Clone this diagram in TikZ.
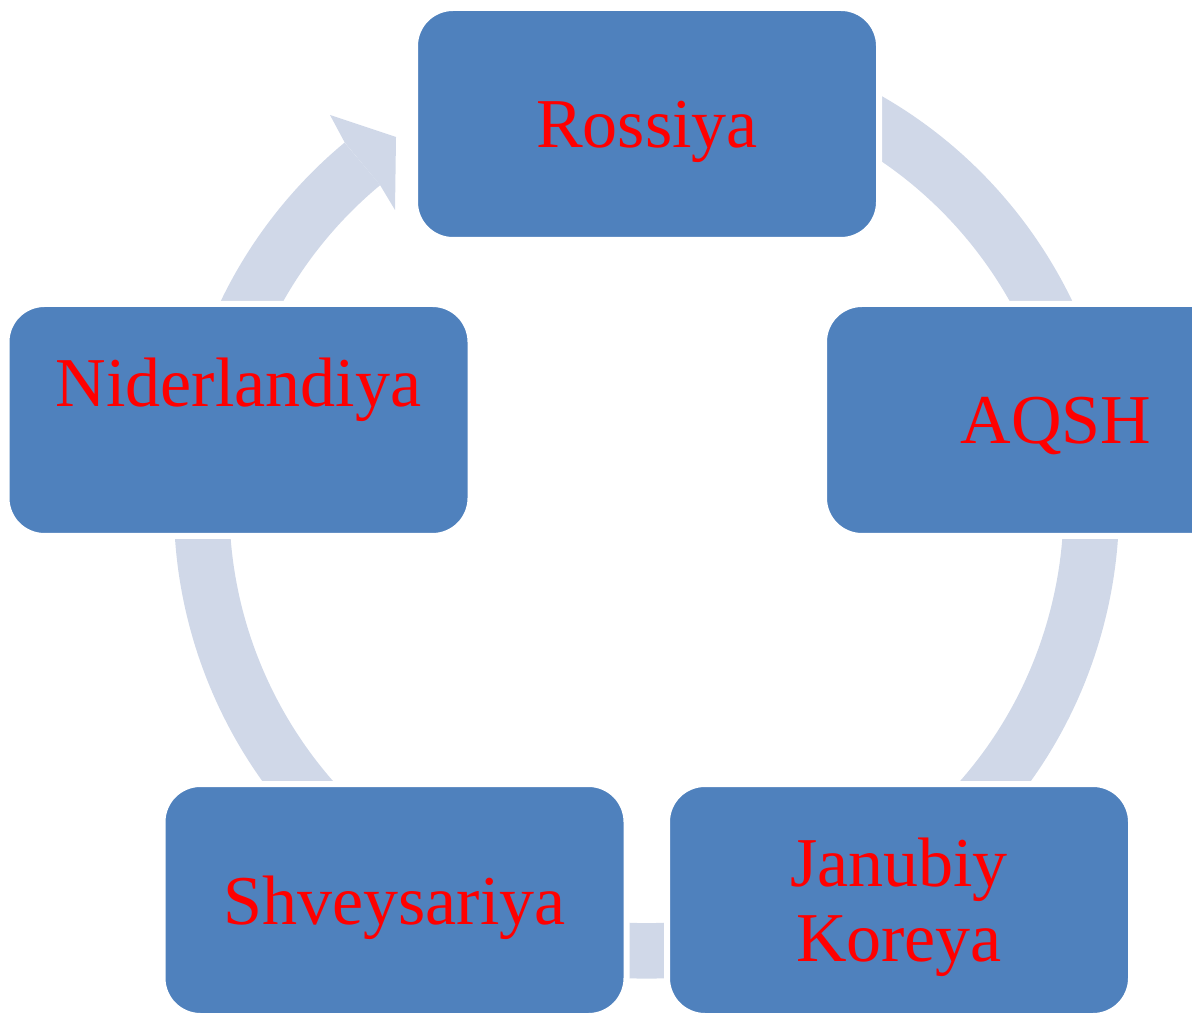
\documentclass[tikz,border=0pt]{standalone}
\usepackage{fontspec}
\setmainfont{Liberation Serif}
\usetikzlibrary{calc}
\definecolor{boxblue}{HTML}{4F81BD}
\definecolor{ringgray}{HTML}{D0D8E8}
\tikzset{
  stage/.style={rectangle, rounded corners=19pt, fill=boxblue, draw=white, line width=3pt,
    minimum width=232pt, minimum height=116pt, text=red, align=center, text depth=0pt,
    font=\fontsize{35}{37.5}\selectfont, inner sep=0pt}
}
\begin{document}
\begin{tikzpicture}[x=0.5pt, y=0.5pt]
    \useasboundingbox (0,0) rectangle (1192,1017);
    \clip (0,0) rectangle (1192,1017);

    % Ring
    \coordinate (c) at (646.5,511);
    \draw[ringgray, line width=27.75pt] ($(c)+(75:444.75)$) arc[start angle=75, end angle=-230.3, radius=444.75];
    % Arrow head
    \fill[ringgray] ($(c)+(129.7:472.5)$) -- (330,902) -- (396,880) -- (395,807) -- ($(c)+(129.7:417)$) -- cycle;

    % Stages
    \node (rossiya) [stage] at (647,893) {Rossiya};
    \node (aqsh) [stage] at (1056,597) {AQSH};
    \node (koreya) [stage] at (899,117) {Janubiy\\Koreya};
    \node (shveys) [stage] at (394.5,117) {Shveysariya};
    \node (niderl) [stage] at (238.5,597) {Niderlandiya\\\mbox{}};
\end{tikzpicture}
\end{document}
